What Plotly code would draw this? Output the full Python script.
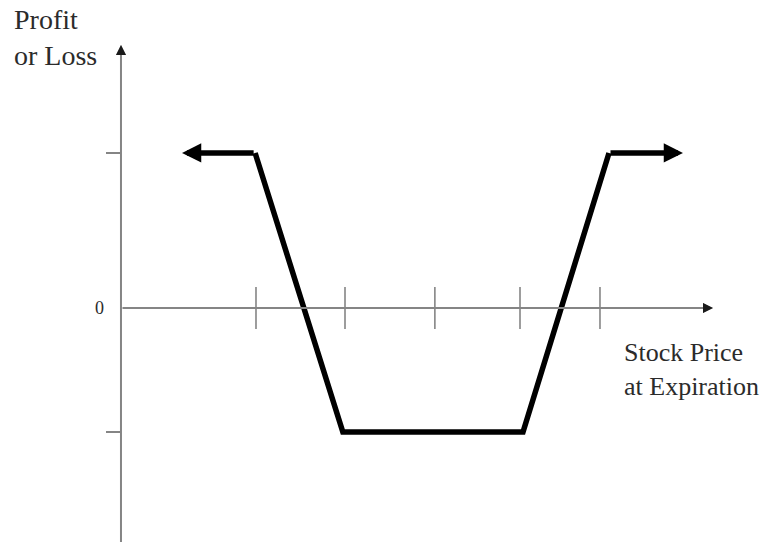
import plotly.graph_objects as go

# ---- data (chart units) ----
tick_prices = [30.0, 40.35, 50.8, 60.7, 70.0]          # marks on the price axis
payoff_x = [29.9, 40.1, 61.05, 71.05]                   # kinks of the profit line
payoff_y = [5, -4, -4, 5]                               # profit / loss at the kinks
left_tail_x = 21.4                                      # arrow tip on the left
right_tail_x = 79.65                                    # arrow tip on the right
profit_ticks = [5, -4]                                  # marks on the profit axis
zero_label = "0"
y_title = "Profit<br>or Loss"
x_title = "Stock Price<br>at Expiration"

# ---- layout constants ----
W, H = 762, 542
X_RANGE = [0.2326, 88.84]
Y_RANGE = [-7.548, 9.935]
YAXIS_X = 14.3
XAXIS_END = 83.14
YAXIS_TOP = 8.48
YAXIS_BOTTOM = -7.7
AXIS_COLOR = "#858585"
HEAD_COLOR = "#1a1a1a"
TEXT_COLOR = "#2b2b2b"
SERIF = "Liberation Serif, Times New Roman, serif"


def paper_x(v):
    return (v - X_RANGE[0]) / (X_RANGE[1] - X_RANGE[0])


fig = go.Figure()

# tick marks crossing the price axis
fig.add_trace(go.Scatter(
    x=tick_prices, y=[0] * len(tick_prices), mode="markers",
    marker=dict(symbol="line-ns", size=30, line=dict(color=AXIS_COLOR, width=1.6)),
    hoverinfo="skip", showlegend=False,
))

# profit / loss line
fig.add_trace(go.Scatter(
    x=payoff_x, y=payoff_y, mode="lines",
    line=dict(color="black", width=5.5),
    hoverinfo="skip", showlegend=False,
))


def arrow(x, y, ax, ay, color, width, size):
    return dict(x=x, y=y, ax=ax, ay=ay, xref="x", yref="y", axref="x", ayref="y",
                text="", showarrow=True, arrowhead=2, arrowsize=size,
                arrowwidth=width, arrowcolor=color, standoff=0)


annotations = [
    # axes (grey shafts) and their dark heads
    arrow(YAXIS_X, YAXIS_TOP, YAXIS_X, YAXIS_BOTTOM, AXIS_COLOR, 2, 1),
    arrow(XAXIS_END, 0, YAXIS_X, 0, AXIS_COLOR, 2, 1),
    arrow(YAXIS_X, YAXIS_TOP, YAXIS_X, YAXIS_TOP - 0.25, HEAD_COLOR, 2, 1),
    arrow(XAXIS_END, 0, XAXIS_END - 0.9, 0, HEAD_COLOR, 2, 1),
    # end arrows on the profit line
    arrow(left_tail_x, payoff_y[0], payoff_x[0], payoff_y[0], "black", 5.5, 0.7),
    arrow(right_tail_x, payoff_y[-1], payoff_x[-1], payoff_y[-1], "black", 5.5, 0.7),
]
# texts
annotations.append(dict(x=12 / W, y=1 - 38 / H, xref="paper", yref="paper",
                        text=y_title, showarrow=False, xanchor="left", yanchor="middle",
                        align="left", font=dict(family=SERIF, size=28, color=TEXT_COLOR)))
annotations.append(dict(x=622 / W, y=1 - 369 / H, xref="paper", yref="paper",
                        text=x_title, showarrow=False, xanchor="left", yanchor="middle",
                        align="left", font=dict(family=SERIF, size=26, color=TEXT_COLOR)))
annotations.append(dict(x=99 / W, y=0, xref="paper", yref="y",
                        text=zero_label, showarrow=False, xanchor="center", yanchor="middle",
                        font=dict(family=SERIF, size=18, color=TEXT_COLOR)))

fig.update_layout(
    width=W, height=H,
    margin=dict(l=0, r=0, t=0, b=0, pad=0),
    paper_bgcolor="white", plot_bgcolor="white",
    xaxis=dict(range=X_RANGE, visible=False, fixedrange=True),
    yaxis=dict(range=Y_RANGE, anchor="free", position=paper_x(YAXIS_X),
               showline=False, showgrid=False, zeroline=False,
               tickmode="array", tickvals=profit_ticks, showticklabels=False,
               ticks="outside", ticklen=15, tickwidth=1.5, tickcolor=AXIS_COLOR,
               fixedrange=True),
    annotations=annotations,
    showlegend=False,
)

fig.write_html(
    "out.html",
    config={"displayModeBar": False},
    post_script="document.body.style.margin='0';document.body.style.padding='0';",
)
